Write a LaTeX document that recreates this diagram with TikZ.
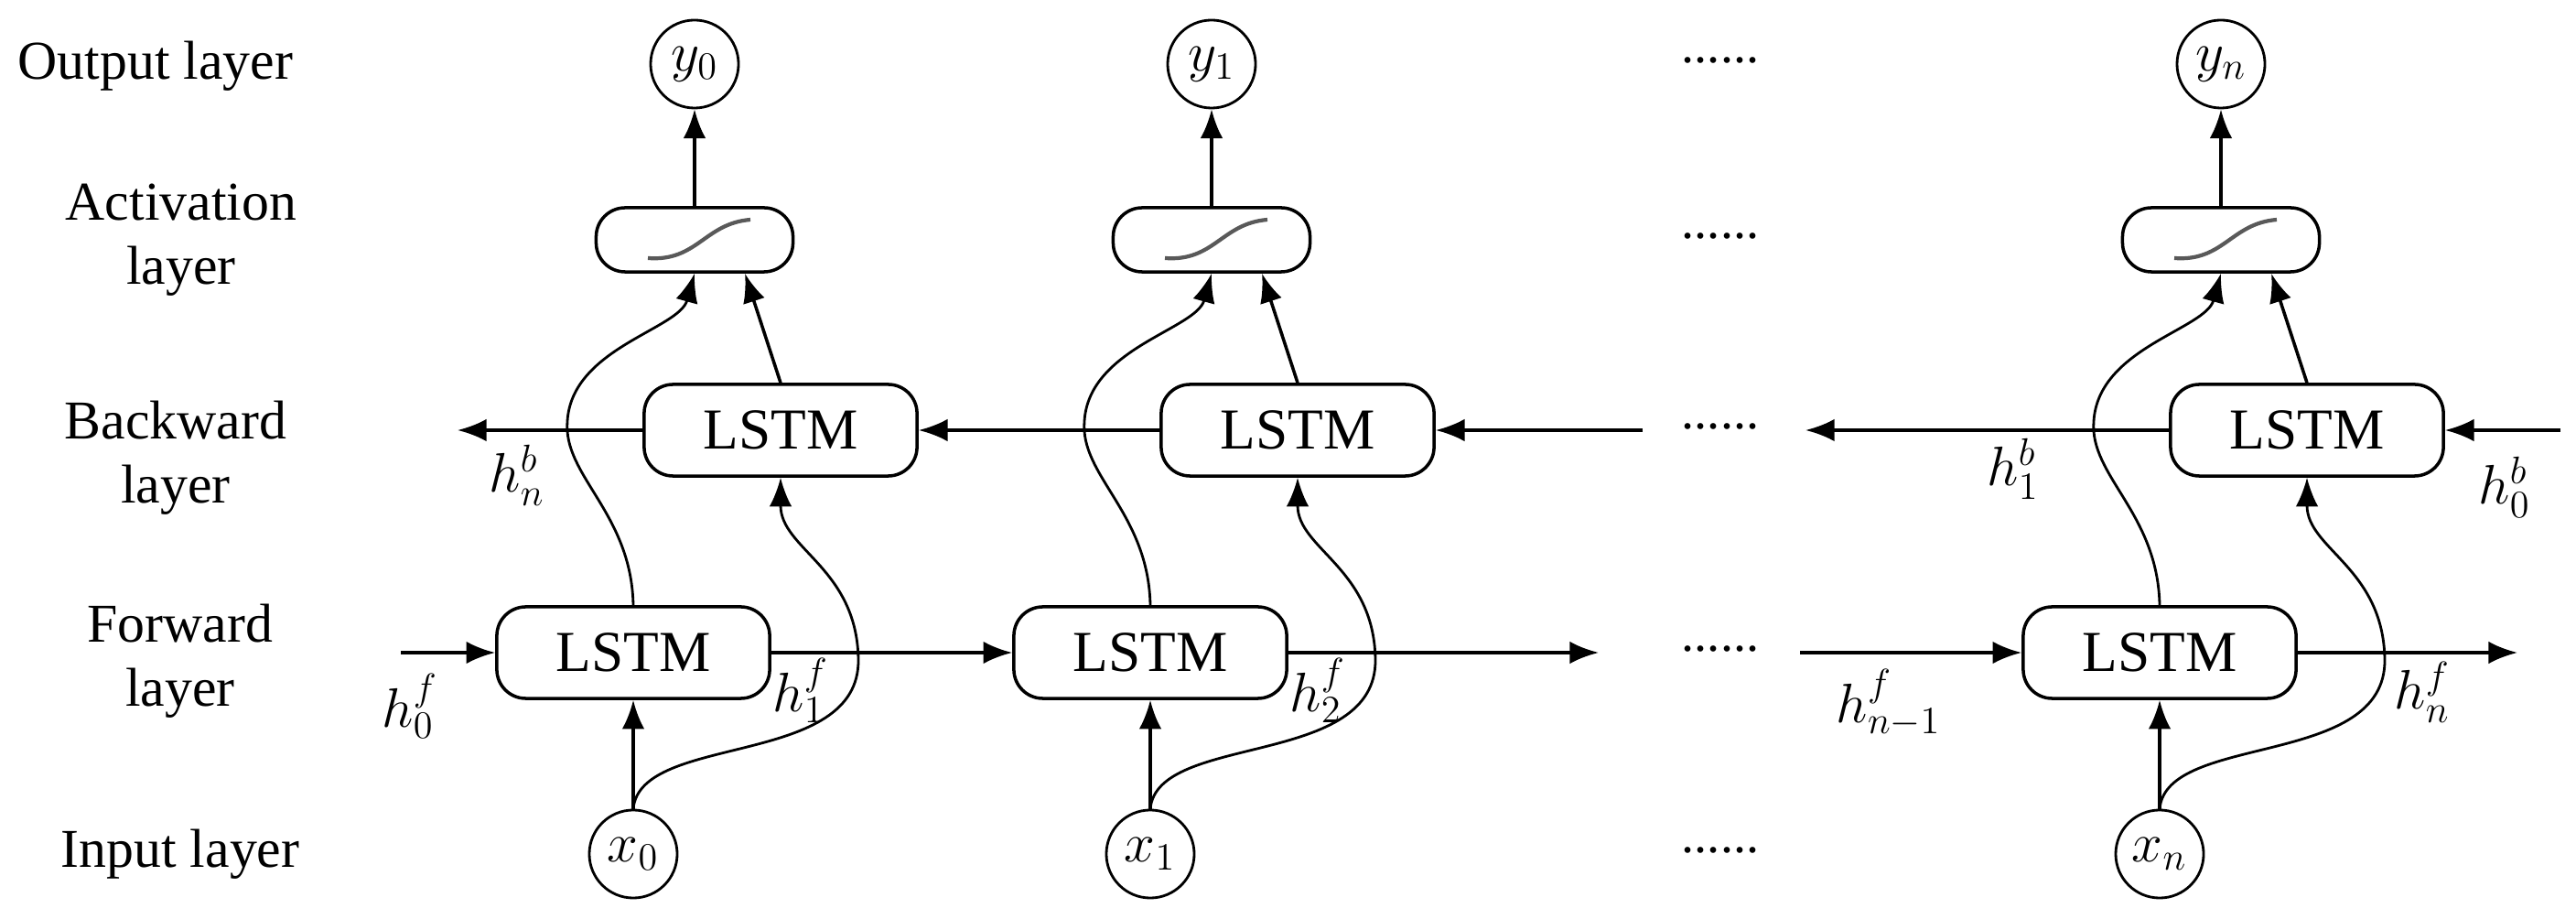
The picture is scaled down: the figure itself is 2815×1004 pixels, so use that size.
\documentclass[tikz,border=0pt]{standalone}
\usepackage{fontspec}
\setmainfont{Liberation Serif}
\usetikzlibrary{arrows.meta}
\begin{document}
\begin{tikzpicture}[x=0.01cm,y=-0.01cm,
  lstm/.style={draw,line width=1pt,rounded corners=9pt,minimum width=2.98cm,minimum height=1.0cm,font=\fontsize{18}{20}\selectfont},
  act/.style={draw,line width=1pt,rounded corners=9pt,minimum width=2.15cm,minimum height=0.7cm},
  io/.style={draw,circle,line width=0.8pt,minimum size=0.96cm,inner sep=0pt,font=\fontsize{17}{20}\selectfont},
  arr/.style={line width=1pt,-{Latex[length=9pt,width=7pt]}},
  crv/.style={line width=0.8pt,-{Latex[length=9pt,width=7pt]}},
  lbl/.style={font=\fontsize{17}{20}\selectfont},
  hl/.style={font=\fontsize{18}{20}\selectfont},
  dots/.style={font=\fontsize{16}{18}\selectfont}]
\useasboundingbox (0,0) rectangle (2815,1004);
% left labels
\node[lbl] (lo) at (170,72) {Output layer};
\node[lbl,align=center] (la) at (198,262) {Activation\\layer};
\node[lbl,align=center] (lb) at (192,500) {Backward\\layer};
\node[lbl,align=center] (lf) at (197,722) {Forward\\layer};
\node[lbl] (li) at (197,933) {Input layer};
% columns
\foreach \i/\x in {0/692,1/1257,n/2360}{
  \node[io] (y\i) at (\x+67,70) {$y_{\i}$};
  \node[act] (a\i) at (\x+67,262) {};
  \draw[gray!70!black,line width=1.2pt] (\x+16,282) .. controls (\x+70,286) and (\x+78,244) .. (\x+128,240);
  \node[lstm] (b\i) at (\x+161,470) {LSTM};
  \node[lstm] (f\i) at (\x,713) {LSTM};
  \node[io] (x\i) at (\x,933) {$x_{\i}$};
  \draw[arr] (a\i) -- (y\i);
  \draw[arr] (x\i) -- (f\i);
  \draw[arr] (b\i.north) -- ([xshift=0.55cm]a\i.south);
  \draw[crv] (f\i.north) .. controls (\x-2,560) and (\x-77,520) .. (\x-72,460) .. controls (\x-67,380) and (\x+50,360) .. (a\i.south);
  \draw[crv] (x\i.north) .. controls (\x+8,800) and (\x+248,840) .. (\x+246,720) .. controls (\x+244,620) and (\x+161,600) .. (b\i.south);
}
% backward row
\coordinate (bl0) at (500,470);
\coordinate (br1) at (1795,470);
\coordinate (bln) at (1973,470);
\coordinate (brn) at (2798,470);
\draw[arr] (b0.west) -- (bl0);
\draw[arr] (b1.west) -- (b0.east);
\draw[arr] (br1) -- (b1.east);
\draw[arr] (bn.west) -- (bln);
\draw[arr] (brn) -- (bn.east);
% forward row
\coordinate (fl0) at (438,713);
\coordinate (fr1) at (1747,713);
\coordinate (fln) at (1967,713);
\coordinate (frn) at (2751,713);
\draw[arr] (fl0) -- (f0.west);
\draw[arr] (f0.east) -- (f1.west);
\draw[arr] (f1.east) -- (fr1);
\draw[arr] (fln) -- (fn.west);
\draw[arr] (fn.east) -- (frn);
% dots
\node[dots] (d1) at (1880,66) {......};
\node[dots] (d2) at (1880,258) {......};
\node[dots] (d3) at (1880,466) {......};
\node[dots] (d4) at (1880,709) {......};
\node[dots] (d5) at (1880,929) {......};
% h labels
\node[hl] (hnb) at (565,519) {$h_n^b$};
\node[hl] (h1b) at (2200,512) {$h_1^b$};
\node[hl] (h0b) at (2737,532) {$h_0^b$};
\node[hl] (h0f) at (448,771) {$h_0^f$};
\node[hl] (h1f) at (875,754) {$h_1^f$};
\node[hl] (h2f) at (1440,754) {$h_2^f$};
\node[hl] (hn1f) at (2064,768) {$h_{n-1}^f$};
\node[hl] (hnf) at (2647,756) {$h_n^f$};
\end{tikzpicture}
\end{document}
